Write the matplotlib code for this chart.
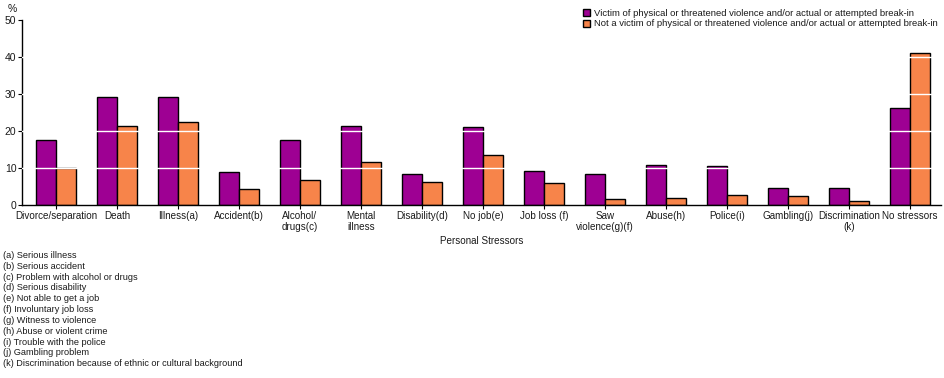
import matplotlib
matplotlib.use("Agg")
import matplotlib.pyplot as plt
import numpy as np

plt.rcParams["font.family"] = ["Liberation Sans", "DejaVu Sans"]

categories = ["Divorce/separation", "Death", "Illness(a)", "Accident(b)", "Alcohol/\ndrugs(c)",
              "Mental\nillness", "Disability(d)", "No job(e)", "Job loss (f)", "Saw\nviolence(g)(f)",
              "Abuse(h)", "Police(i)", "Gambling(j)", "Discrimination\n(k)", "No stressors"]
victim = [17.4, 29.0, 29.0, 8.8, 17.4, 21.2, 8.3, 21.0, 9.1, 8.3, 10.8, 10.4, 4.5, 4.5, 26.1]
not_victim = [10.1, 21.2, 22.3, 4.2, 6.7, 11.5, 6.1, 13.4, 5.8, 1.5, 1.8, 2.6, 2.3, 1.0, 40.9]
series_labels = ["Victim of physical or threatened violence and/or actual or attempted break-in",
                 "Not a victim of physical or threatened violence and/or actual or attempted break-in"]
footnotes = ["(a) Serious illness", "(b) Serious accident", "(c) Problem with alcohol or drugs",
             "(d) Serious disability", "(e) Not able to get a job", "(f) Involuntary job loss",
             "(g) Witness to violence", "(h) Abuse or violent crime", "(i) Trouble with the police",
             "(j) Gambling problem", "(k) Discrimination because of ethnic or cultural background"]
yticks = [0, 10, 20, 30, 40, 50]

purple = "#9E0093"
orange = "#F7844A"
textc = "#1a1a1a"

fig = plt.figure(figsize=(9.45, 3.78), dpi=100)
ax = fig.add_axes([0.0233, 0.4577, 0.9725, 0.4903])

x = np.arange(len(categories))
w = 0.33
ax.bar(x - w / 2, victim, width=w, color=purple, edgecolor="black", linewidth=1, zorder=2,
       label=series_labels[0])
ax.bar(x + w / 2, not_victim, width=w, color=orange, edgecolor="black", linewidth=1, zorder=2,
       label=series_labels[1])
for yv in yticks[1:-1]:
    ax.axhline(yv, color="white", linewidth=1, zorder=3)

ax.set_xlim(-0.557, 14.51)
ax.set_ylim(0, 50)
ax.set_yticks(yticks)
ax.set_xticks(x)
ax.set_xticklabels(categories, fontsize=7.1, linespacing=1.05, color=textc)
ax.tick_params(axis="y", labelsize=7.5, length=3, pad=1, labelcolor=textc)
ax.tick_params(axis="x", length=3, pad=1.5)
for s in ["top", "right"]:
    ax.spines[s].set_visible(False)
ax.spines["left"].set_linewidth(1)
ax.spines["bottom"].set_linewidth(1)

ax.set_xlabel("Personal Stressors", fontsize=7.1, labelpad=3, color=textc)
fig.text(0.008, 0.99, "%", fontsize=7.5, va="top", ha="left", color=textc)

leg = ax.legend(loc="upper left", bbox_to_anchor=(0.610, 1.06), fontsize=6.8, frameon=False,
                handlelength=0.8, handleheight=0.8, handletextpad=0.4, borderpad=0,
                labelspacing=0.2, borderaxespad=0)
for t in leg.get_texts():
    t.set_color(textc)

fig.text(0.003, 1 - 251 / 378, "\n".join(footnotes), fontsize=6.6, va="top", ha="left",
         linespacing=1.26, color=textc)

fig.savefig("out.png", dpi=100)
